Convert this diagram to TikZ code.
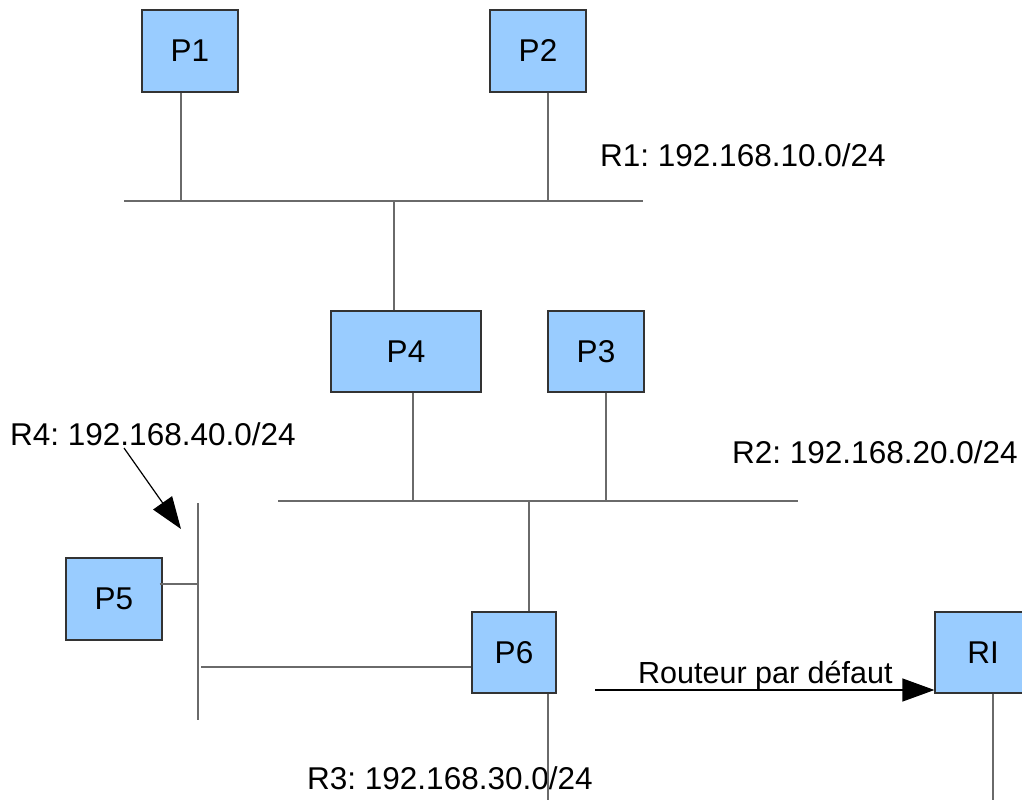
\documentclass[tikz,border=0pt]{standalone}
\usepackage{fontspec}
\setmainfont{Liberation Sans}
\usetikzlibrary{arrows.meta}
\definecolor{boxfill}{HTML}{99CCFF}
\definecolor{boxline}{HTML}{333333}
\definecolor{netline}{HTML}{6A6A6A}
\frenchspacing
\begin{document}
\begin{tikzpicture}[x=1pt,y=-1pt,
  every node/.style={font=\fontsize{31.5}{37}\selectfont},
  host/.style={draw=boxline, fill=boxfill, line width=1.2pt, inner sep=0pt},
  net/.style={draw=netline, line width=1.4pt},
  link/.style={draw=netline, line width=1.2pt},
  pointer/.style={draw=black, line width=1.2pt, -{Triangle[length=32pt,width=23pt]}},
  netlabel/.style={anchor=base west, inner sep=0pt}]
\useasboundingbox (0,0) rectangle (1022,800);

% hosts
\node[host, minimum width=96pt, minimum height=82pt] (P1) at (190,51) {P1};
\node[host, minimum width=96pt, minimum height=82pt] (P2) at (538,51) {P2};
\node[host, minimum width=150pt, minimum height=81pt] (P4) at (406,351.5) {P4};
\node[host, minimum width=96pt, minimum height=81pt] (P3) at (596,351.5) {P3};
\node[host, minimum width=96pt, minimum height=82pt] (P5) at (114,599) {P5};
\node[host, minimum width=84pt, minimum height=81pt] (P6) at (514,652.5) {P6};
\node[host, minimum width=96pt, minimum height=81pt] (RI) at (983,652.5) {RI};

% network labels
\node[netlabel] (L1) at (600,166) {R1: 192.168.10.0/24};
\node[netlabel] (L2) at (732,463) {R2: 192.168.20.0/24};
\node[netlabel] (L4) at (10,445) {R4: 192.168.40.0/24};
\node[netlabel] (L3) at (307,789) {R3: 192.168.30.0/24};
\node[netlabel, font=\fontsize{30.5}{37}\selectfont] (Ldef) at (638,683) {Routeur par défaut};

% buses
\coordinate (R1w) at (124,201);
\coordinate (R1e) at (643,201);
\coordinate (R2w) at (278,501);
\coordinate (R2e) at (798,501);
\coordinate (R4n) at (198,503);
\coordinate (R4s) at (198,720);
\coordinate (R3end) at (548,800);
\coordinate (RIend) at (993,800);
\draw[net] (R1w) -- (R1e);
\draw[net] (R2w) -- (R2e);
\draw[net] (R4n) -- (R4s);

% links
\draw[link] ([xshift=-9pt]P1.south) -- ([xshift=-9pt]P1.south |- R1w);
\draw[link] ([xshift=10pt]P2.south) -- ([xshift=10pt]P2.south |- R1w);
\draw[link] ([xshift=-12pt]P4.north) -- ([xshift=-12pt]P4.north |- R1w);
\draw[link] ([xshift=7pt]P4.south) -- ([xshift=7pt]P4.south |- R2w);
\draw[link] ([xshift=10pt]P3.south) -- ([xshift=10pt]P3.south |- R2w);
\draw[link] ([xshift=15pt]P6.north) -- ([xshift=15pt]P6.north |- R2w);
\draw[link] ([xshift=-3pt,yshift=15pt]P5.east) -- ([yshift=15pt]P5.east -| R4n);
\draw[link] ([yshift=-14.5pt]P6.west) -- ([xshift=3pt,yshift=-14.5pt]P6.west -| R4n);
\draw[link] ([xshift=34pt]P6.south) -- (R3end);
\draw[link] ([xshift=10pt]RI.south) -- (RIend);

% pointers
\coordinate (R4tail) at (124,448);
\coordinate (R4tip) at (181,529);
\draw[pointer] (R4tail) -- (R4tip);
\coordinate (defstart) at (595,690);
\draw[pointer] (defstart) -- (RI.west |- defstart);
\end{tikzpicture}
\end{document}
